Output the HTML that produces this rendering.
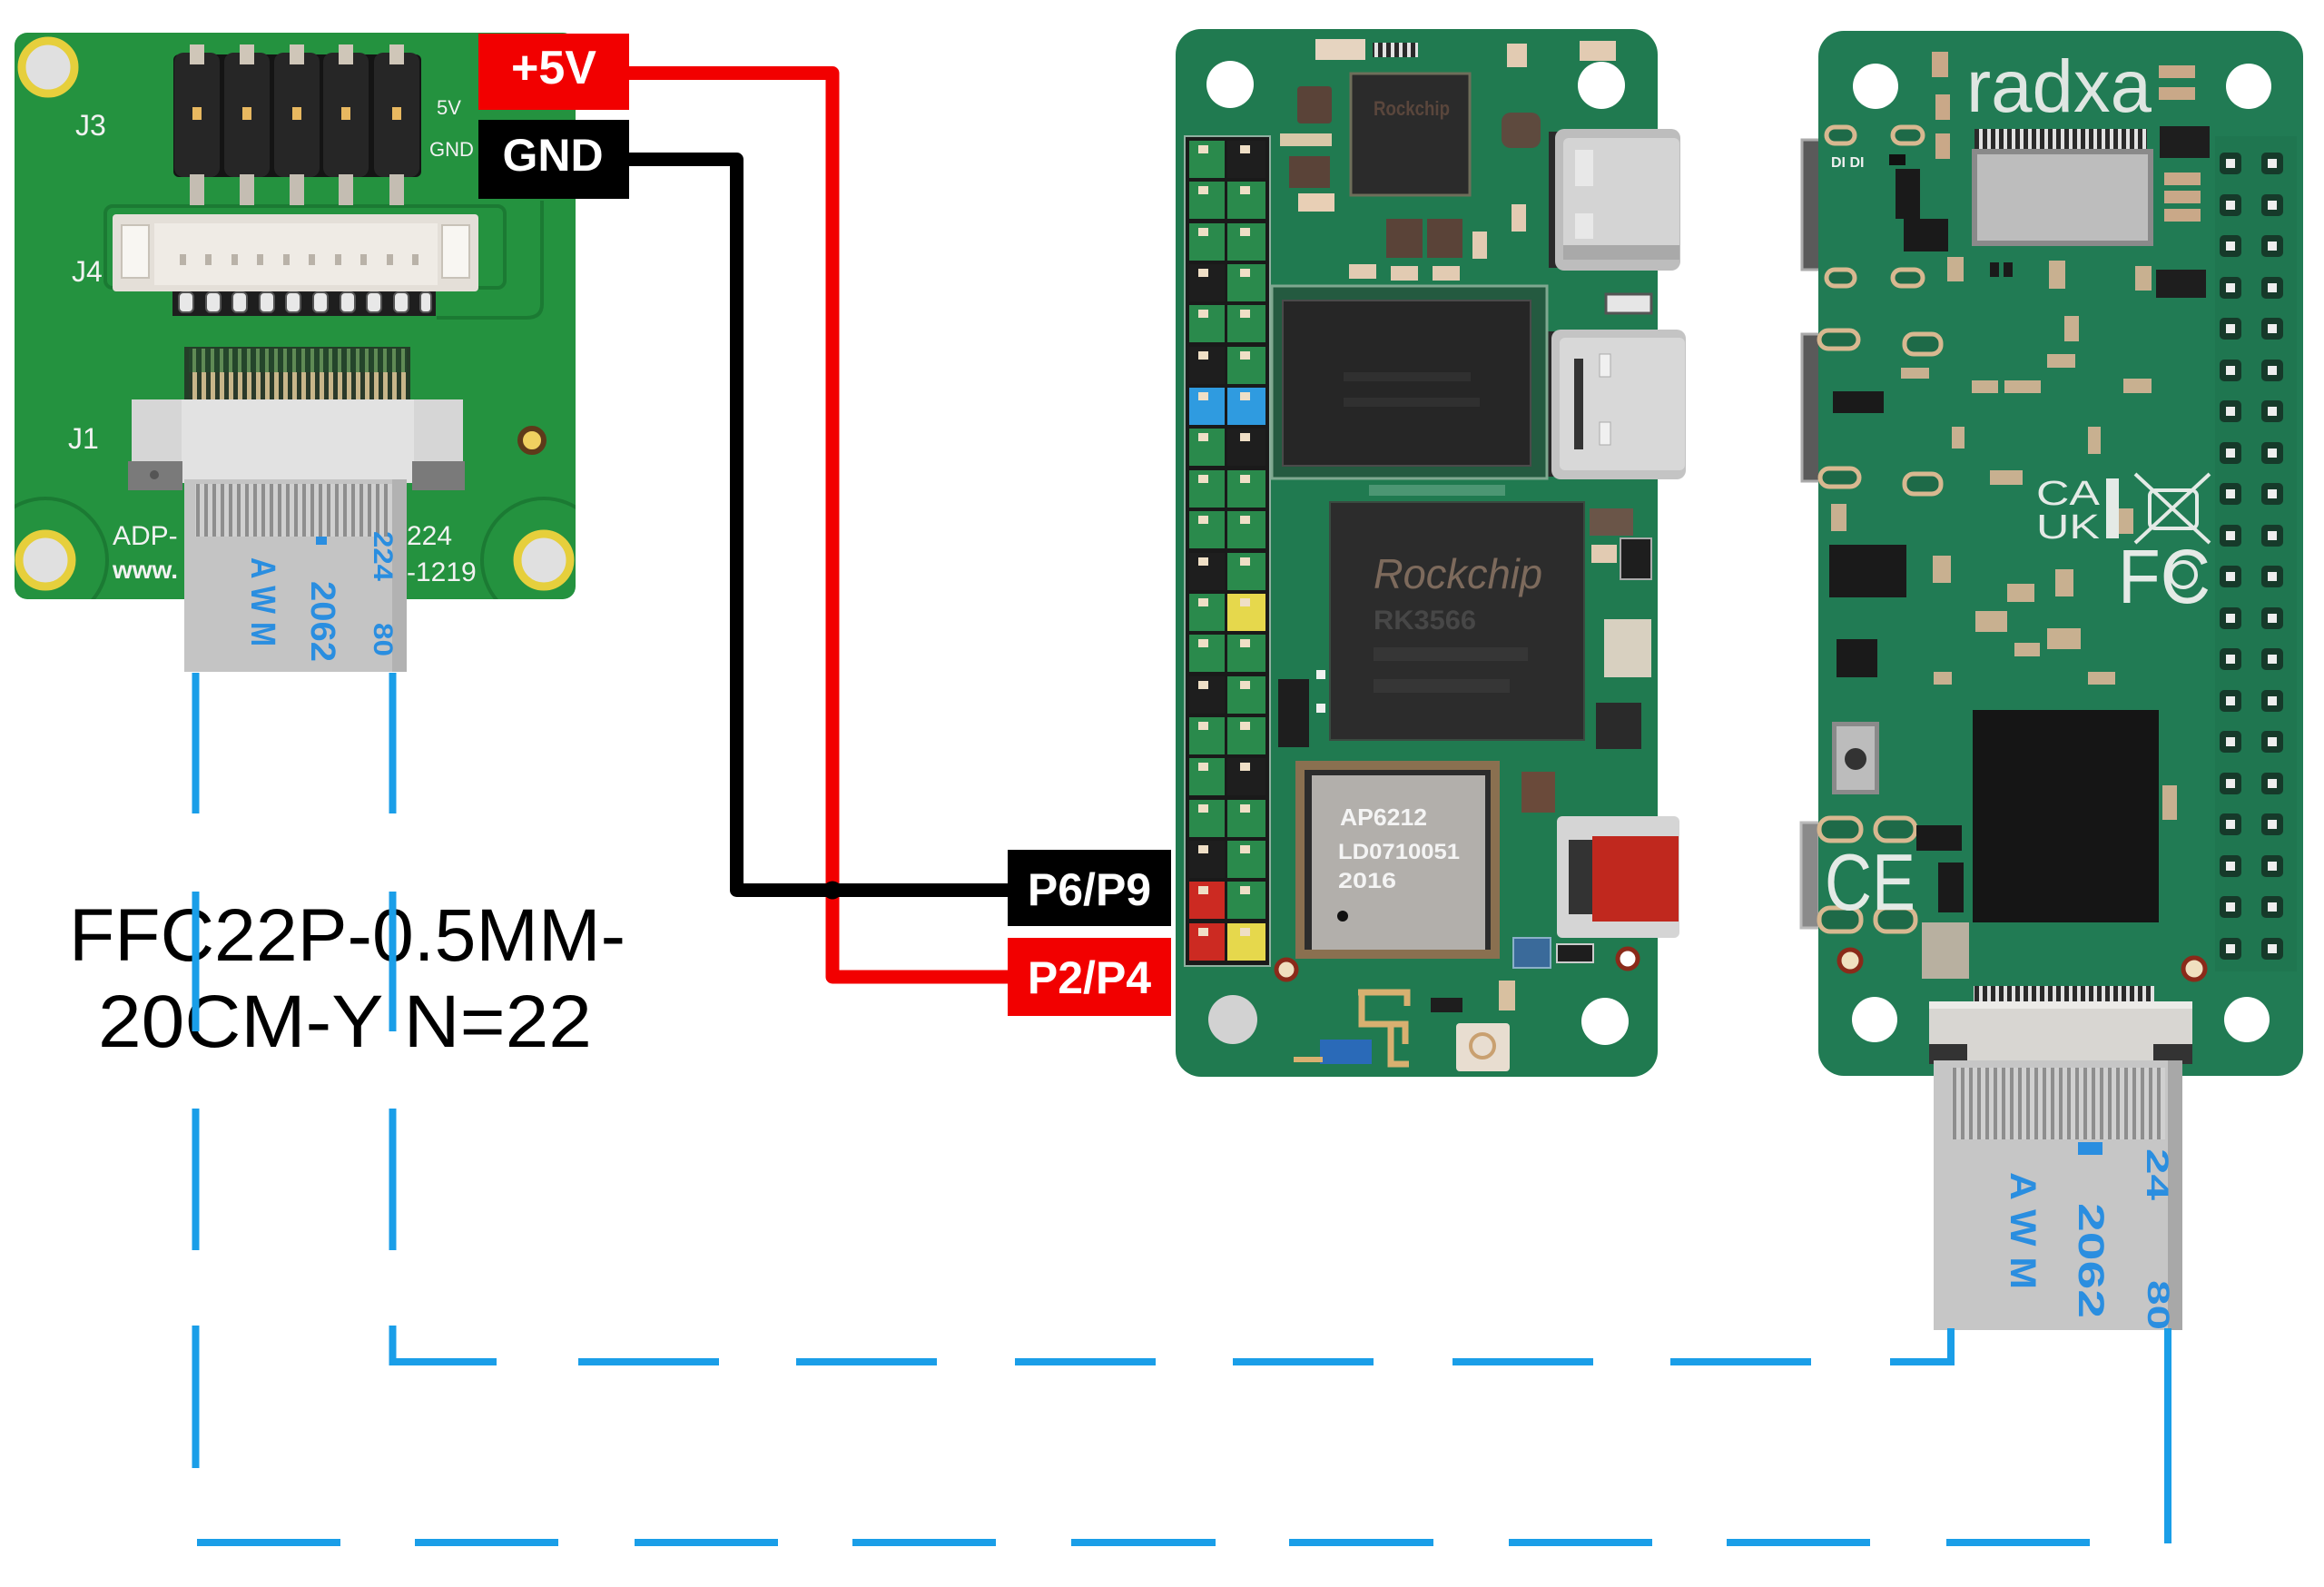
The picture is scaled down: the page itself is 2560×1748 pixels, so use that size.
<!DOCTYPE html>
<html><head><meta charset="utf-8"><style>
html,body{margin:0;padding:0;background:#fff;}
svg{display:block}
text{font-family:"Liberation Sans",sans-serif}
</style></head><body>
<svg xmlns="http://www.w3.org/2000/svg" width="2560" height="1748" viewBox="0 0 2560 1748">
<defs>
<pattern id="rib" width="9" height="10" patternUnits="userSpaceOnUse"><rect width="9" height="10" fill="#d0d0d0"/><rect width="4" height="10" fill="#8e8e8e"/></pattern>
<pattern id="gold" width="10" height="10" patternUnits="userSpaceOnUse"><rect width="10" height="10" fill="#2a3a2a"/><rect x="2" width="5" height="10" fill="#c8b68a"/></pattern>
<pattern id="gz" width="10" height="10" patternUnits="userSpaceOnUse"><rect width="10" height="10" fill="#24452b"/><rect x="2" width="4" height="10" fill="#5f8a55"/></pattern>
<pattern id="wp" width="9" height="10" patternUnits="userSpaceOnUse"><rect width="9" height="10" fill="#2a2a2a"/><rect x="2" width="4" height="10" fill="#e2e2e2"/></pattern>
<clipPath id="lb"><rect x="16" y="36" width="618" height="624" rx="14"/></clipPath>
</defs>
<rect width="2560" height="1748" fill="#fff"/>

<!-- ================= LEFT ADAPTER BOARD ================= -->
<rect x="16" y="36" width="618" height="624" rx="14" fill="#24923f"/>
<g clip-path="url(#lb)" fill="none" stroke="#1b7a33" stroke-width="4">
<circle cx="50" cy="617" r="68"/><circle cx="599" cy="617" r="68"/>
<path d="M597 221 V335 Q597 350 580 350 H481"/>
<rect x="116" y="227" width="440" height="90" rx="8"/>
</g>
<!-- holes -->
<g fill="#e0e0e0" stroke="#e6cf3c" stroke-width="9">
<circle cx="53" cy="74" r="29"/><circle cx="50" cy="617" r="29"/><circle cx="599" cy="617" r="29"/>
</g>
<!-- J3 header -->
<rect x="191" y="60" width="273" height="135" rx="6" fill="#141414"/>
<g fill="#262626">
<rect x="192" y="58" width="50" height="137" rx="10"/><rect x="247" y="58" width="50" height="137" rx="10"/><rect x="302" y="58" width="50" height="137" rx="10"/><rect x="356" y="58" width="50" height="137" rx="10"/><rect x="412" y="58" width="50" height="137" rx="10"/>
</g>
<g fill="#cfc6b8">
<rect x="209" y="49" width="16" height="22"/><rect x="264" y="49" width="16" height="22"/><rect x="319" y="49" width="16" height="22"/><rect x="373" y="49" width="16" height="22"/><rect x="429" y="49" width="16" height="22"/>
</g>
<g fill="#e8b860">
<rect x="212" y="118" width="10" height="14"/><rect x="267" y="118" width="10" height="14"/><rect x="322" y="118" width="10" height="14"/><rect x="376" y="118" width="10" height="14"/><rect x="432" y="118" width="10" height="14"/>
</g>
<g fill="#c4bdb2">
<rect x="209" y="192" width="16" height="34"/><rect x="264" y="192" width="16" height="34"/><rect x="319" y="192" width="16" height="34"/><rect x="373" y="192" width="16" height="34"/><rect x="429" y="192" width="16" height="34"/>
</g>
<!-- J4 -->
<rect x="190" y="316" width="290" height="32" fill="#1e1e1e"/>
<g fill="#e8e8e8" stroke="#555" stroke-width="2">
<rect x="197" y="322" width="16" height="22" rx="5"/><rect x="227" y="322" width="16" height="22" rx="5"/><rect x="256" y="322" width="16" height="22" rx="5"/><rect x="286" y="322" width="16" height="22" rx="5"/><rect x="315" y="322" width="16" height="22" rx="5"/><rect x="345" y="322" width="16" height="22" rx="5"/><rect x="375" y="322" width="16" height="22" rx="5"/><rect x="404" y="322" width="16" height="22" rx="5"/><rect x="434" y="322" width="16" height="22" rx="5"/><rect x="463" y="322" width="12" height="22" rx="4"/>
</g>
<rect x="124" y="236" width="403" height="85" rx="4" fill="#e4dfd8"/>
<rect x="170" y="246" width="312" height="68" fill="#efebe5"/>
<rect x="134" y="248" width="30" height="58" fill="#f8f6f2" stroke="#c8c2b8" stroke-width="2"/>
<rect x="487" y="248" width="30" height="58" fill="#f8f6f2" stroke="#c8c2b8" stroke-width="2"/>
<g fill="#b9b2a8">
<rect x="198" y="280" width="7" height="12"/><rect x="226" y="280" width="7" height="12"/><rect x="255" y="280" width="7" height="12"/><rect x="283" y="280" width="7" height="12"/><rect x="312" y="280" width="7" height="12"/><rect x="340" y="280" width="7" height="12"/><rect x="369" y="280" width="7" height="12"/><rect x="397" y="280" width="7" height="12"/><rect x="426" y="280" width="7" height="12"/><rect x="454" y="280" width="7" height="12"/>
</g>
<!-- J1 -->
<rect x="203" y="382" width="249" height="63" fill="#243d28"/>
<rect x="208" y="384" width="240" height="26" fill="url(#gz)"/>
<rect x="208" y="410" width="240" height="35" fill="url(#gold)"/>
<rect x="145" y="440" width="365" height="72" fill="#d6d6d6"/>
<rect x="200" y="440" width="256" height="92" fill="#e2e2e2"/>
<rect x="141" y="508" width="60" height="32" fill="#7a7a7a"/>
<rect x="454" y="508" width="58" height="32" fill="#7a7a7a"/>
<circle cx="170" cy="523" r="5" fill="#555"/>
<!-- pad -->
<circle cx="586" cy="485" r="13" fill="#f0d060" stroke="#5e3a1a" stroke-width="6"/>
<!-- silkscreen -->
<g fill="#f2f2f2" font-size="32">
<text x="83" y="149">J3</text>
<text x="79" y="310">J4</text>
<text x="75" y="494">J1</text>
<text x="124" y="600" font-size="30">ADP-</text>
<text x="124" y="637" font-size="28" font-weight="bold">www.</text>
<text x="448" y="600" font-size="30">224</text>
<text x="448" y="640" font-size="30">-1219</text>
<text x="481" y="126" font-size="22">5V</text>
<text x="473" y="172" font-size="22">GND</text>
</g>
<!-- left cable -->
<rect x="203" y="528" width="245" height="212" fill="#c4c4c4"/>
<rect x="215" y="533" width="218" height="58" fill="url(#rib)"/>
<rect x="432" y="528" width="16" height="212" fill="#b2b2b2"/>
<g fill="#2a8ee0" font-weight="bold">
<text transform="translate(277,614) rotate(90)" font-size="38" textLength="98" lengthAdjust="spacingAndGlyphs">A W M</text>
<text transform="translate(343,640) rotate(90)" font-size="38" textLength="89" lengthAdjust="spacingAndGlyphs">2062</text>
<text transform="translate(412,585) rotate(90)" font-size="30" textLength="55" lengthAdjust="spacingAndGlyphs">224</text>
<text transform="translate(412,686) rotate(90)" font-size="30" textLength="37" lengthAdjust="spacingAndGlyphs">80</text>
<rect x="348" y="591" width="12" height="9"/>
</g>

<!-- ================= MIDDLE BOARD ================= -->
<rect x="1295" y="32" width="531" height="1154" rx="28" fill="#207a50"/>
<!-- holes -->
<circle cx="1355" cy="93" r="26" fill="#fff"/>
<circle cx="1764" cy="94" r="26" fill="#fff"/>
<circle cx="1358" cy="1123" r="27" fill="#d2d2d2"/>
<circle cx="1768" cy="1125" r="26" fill="#fff"/>
<!-- GPIO header -->
<rect x="1305" y="150" width="94" height="914" fill="#1a1a1a" stroke="#8fb0a0" stroke-width="2"/>
<g>
<rect x="1310" y="155" width="39" height="41" fill="#2a8a4c"/><rect x="1352" y="155" width="42" height="41" fill="#1e1e1e"/>
<rect x="1310" y="200" width="39" height="41" fill="#2a8a4c"/><rect x="1352" y="200" width="42" height="41" fill="#2a8a4c"/>
<rect x="1310" y="246" width="39" height="41" fill="#2a8a4c"/><rect x="1352" y="246" width="42" height="41" fill="#2a8a4c"/>
<rect x="1310" y="291" width="39" height="41" fill="#1e1e1e"/><rect x="1352" y="291" width="42" height="41" fill="#2a8a4c"/>
<rect x="1310" y="336" width="39" height="41" fill="#2a8a4c"/><rect x="1352" y="336" width="42" height="41" fill="#2a8a4c"/>
<rect x="1310" y="382" width="39" height="41" fill="#1e1e1e"/><rect x="1352" y="382" width="42" height="41" fill="#2a8a4c"/>
<rect x="1310" y="427" width="39" height="41" fill="#2f9be0"/><rect x="1352" y="427" width="42" height="41" fill="#2f9be0"/>
<rect x="1310" y="472" width="39" height="41" fill="#2a8a4c"/><rect x="1352" y="472" width="42" height="41" fill="#1e1e1e"/>
<rect x="1310" y="518" width="39" height="41" fill="#2a8a4c"/><rect x="1352" y="518" width="42" height="41" fill="#2a8a4c"/>
<rect x="1310" y="563" width="39" height="41" fill="#2a8a4c"/><rect x="1352" y="563" width="42" height="41" fill="#2a8a4c"/>
<rect x="1310" y="609" width="39" height="41" fill="#1e1e1e"/><rect x="1352" y="609" width="42" height="41" fill="#2a8a4c"/>
<rect x="1310" y="654" width="39" height="41" fill="#2a8a4c"/><rect x="1352" y="654" width="42" height="41" fill="#e6d84c"/>
<rect x="1310" y="699" width="39" height="41" fill="#2a8a4c"/><rect x="1352" y="699" width="42" height="41" fill="#2a8a4c"/>
<rect x="1310" y="745" width="39" height="41" fill="#1e1e1e"/><rect x="1352" y="745" width="42" height="41" fill="#2a8a4c"/>
<rect x="1310" y="790" width="39" height="41" fill="#2a8a4c"/><rect x="1352" y="790" width="42" height="41" fill="#2a8a4c"/>
<rect x="1310" y="835" width="39" height="41" fill="#2a8a4c"/><rect x="1352" y="835" width="42" height="41" fill="#1e1e1e"/>
<rect x="1310" y="881" width="39" height="41" fill="#2a8a4c"/><rect x="1352" y="881" width="42" height="41" fill="#2a8a4c"/>
<rect x="1310" y="926" width="39" height="41" fill="#1e1e1e"/><rect x="1352" y="926" width="42" height="41" fill="#2a8a4c"/>
<rect x="1310" y="971" width="39" height="41" fill="#cc2a22"/><rect x="1352" y="971" width="42" height="41" fill="#2a8a4c"/>
<rect x="1310" y="1017" width="39" height="41" fill="#cc2a22"/><rect x="1352" y="1017" width="42" height="41" fill="#e6d84c"/>
</g>
<g fill="#efdfc6">
<rect x="1320" y="160" width="11" height="9"/><rect x="1366" y="160" width="11" height="9"/>
<rect x="1320" y="205" width="11" height="9"/><rect x="1366" y="205" width="11" height="9"/>
<rect x="1320" y="251" width="11" height="9"/><rect x="1366" y="251" width="11" height="9"/>
<rect x="1320" y="296" width="11" height="9"/><rect x="1366" y="296" width="11" height="9"/>
<rect x="1320" y="341" width="11" height="9"/><rect x="1366" y="341" width="11" height="9"/>
<rect x="1320" y="387" width="11" height="9"/><rect x="1366" y="387" width="11" height="9"/>
<rect x="1320" y="432" width="11" height="9"/><rect x="1366" y="432" width="11" height="9"/>
<rect x="1320" y="477" width="11" height="9"/><rect x="1366" y="477" width="11" height="9"/>
<rect x="1320" y="523" width="11" height="9"/><rect x="1366" y="523" width="11" height="9"/>
<rect x="1320" y="568" width="11" height="9"/><rect x="1366" y="568" width="11" height="9"/>
<rect x="1320" y="614" width="11" height="9"/><rect x="1366" y="614" width="11" height="9"/>
<rect x="1320" y="659" width="11" height="9"/><rect x="1366" y="659" width="11" height="9"/>
<rect x="1320" y="704" width="11" height="9"/><rect x="1366" y="704" width="11" height="9"/>
<rect x="1320" y="750" width="11" height="9"/><rect x="1366" y="750" width="11" height="9"/>
<rect x="1320" y="795" width="11" height="9"/><rect x="1366" y="795" width="11" height="9"/>
<rect x="1320" y="840" width="11" height="9"/><rect x="1366" y="840" width="11" height="9"/>
<rect x="1320" y="886" width="11" height="9"/><rect x="1366" y="886" width="11" height="9"/>
<rect x="1320" y="931" width="11" height="9"/><rect x="1366" y="931" width="11" height="9"/>
<rect x="1320" y="976" width="11" height="9"/><rect x="1366" y="976" width="11" height="9"/>
<rect x="1320" y="1022" width="11" height="9"/><rect x="1366" y="1022" width="11" height="9"/>
</g>
<!-- top area components -->
<rect x="1449" y="43" width="55" height="23" fill="#e6d4c0"/>
<rect x="1512" y="47" width="50" height="16" fill="url(#wp)"/>
<rect x="1660" y="48" width="22" height="26" fill="#e2cbb2"/>
<rect x="1740" y="45" width="40" height="22" fill="#e2cbb2"/>
<rect x="1429" y="95" width="38" height="41" rx="4" fill="#5a4338"/>
<rect x="1420" y="172" width="45" height="35" fill="#5a4338"/>
<rect x="1410" y="147" width="57" height="14" fill="#d8c8a8"/>
<rect x="1430" y="213" width="40" height="20" fill="#e8cfb5"/>
<rect x="1488" y="81" width="131" height="134" fill="#2b2b2b" stroke="#6e6e5a" stroke-width="3"/>
<text x="1513" y="127" font-size="22" font-weight="bold" fill="#5a463c" textLength="84" lengthAdjust="spacingAndGlyphs">Rockchip</text>
<rect x="1654" y="124" width="43" height="39" rx="10" fill="#5e4a3e"/>
<rect x="1527" y="241" width="40" height="43" fill="#5a4338"/>
<rect x="1572" y="241" width="39" height="43" fill="#5a4338"/>
<rect x="1486" y="291" width="30" height="16" fill="#e2cbb2"/>
<rect x="1532" y="293" width="30" height="16" fill="#e2cbb2"/>
<rect x="1578" y="293" width="30" height="16" fill="#e2cbb2"/>
<rect x="1622" y="255" width="16" height="30" fill="#e2cbb2"/>
<rect x="1665" y="225" width="16" height="30" fill="#e2cbb2"/>
<!-- USB-C 1 -->
<rect x="1706" y="145" width="16" height="150" fill="#2a2a2a"/>
<rect x="1713" y="142" width="138" height="156" rx="10" fill="#bdbdbd"/>
<rect x="1722" y="152" width="128" height="134" rx="6" fill="#d4d4d4"/>
<rect x="1722" y="270" width="128" height="16" fill="#a9a9a9"/>
<rect x="1735" y="165" width="20" height="40" fill="#e8e8e8"/>
<rect x="1735" y="235" width="20" height="28" fill="#e8e8e8"/>
<rect x="1769" y="324" width="50" height="21" fill="#e6e6e6" stroke="#555" stroke-width="3"/>
<!-- USB-C 2 -->
<rect x="1702" y="365" width="16" height="160" fill="#2a2a2a"/>
<rect x="1709" y="363" width="148" height="165" rx="10" fill="#c4c4c4"/>
<rect x="1718" y="372" width="138" height="146" rx="6" fill="#d8d8d8"/>
<rect x="1734" y="395" width="10" height="100" fill="#333"/>
<rect x="1762" y="390" width="12" height="25" fill="#f0f0f0" stroke="#aaa"/>
<rect x="1762" y="465" width="12" height="25" fill="#f0f0f0" stroke="#aaa"/>
<!-- RAM -->
<rect x="1401" y="315" width="303" height="212" fill="#245a40" stroke="#7fa890" stroke-width="3"/>
<rect x="1413" y="331" width="273" height="182" fill="#262626" stroke="#4a4a4a" stroke-width="2"/>
<rect x="1480" y="410" width="140" height="10" fill="#303030"/>
<rect x="1480" y="438" width="150" height="10" fill="#303030"/>
<!-- SoC -->
<rect x="1465" y="553" width="280" height="262" fill="#2c2c2c" stroke="#3a4a40" stroke-width="2"/>
<text x="1513" y="648" font-size="46" font-style="italic" fill="#7d6a5c" textLength="186" lengthAdjust="spacingAndGlyphs">Rockchip</text>
<text x="1513" y="693" font-size="30" font-weight="bold" fill="#474747" textLength="113" lengthAdjust="spacingAndGlyphs">RK3566</text>
<rect x="1513" y="713" width="170" height="15" fill="#363636"/>
<rect x="1513" y="748" width="150" height="15" fill="#363636"/>
<rect x="1508" y="534" width="150" height="12" fill="#6aa88a" opacity="0.6"/>
<!-- around SoC -->
<rect x="1751" y="560" width="48" height="30" fill="#6a5548"/>
<rect x="1753" y="600" width="28" height="20" fill="#e2cbb2"/>
<rect x="1785" y="593" width="34" height="45" fill="#1e1e1e" stroke="#aaa" stroke-width="2"/>
<rect x="1767" y="682" width="52" height="64" fill="#d8d0c0"/>
<rect x="1758" y="774" width="50" height="51" fill="#2a2a2a"/>
<rect x="1408" y="748" width="34" height="75" fill="#1e1e1e"/>
<rect x="1450" y="738" width="10" height="10" fill="#f0f0f0"/>
<rect x="1450" y="775" width="10" height="10" fill="#f0f0f0"/>
<!-- wifi module -->
<rect x="1427" y="838" width="225" height="218" fill="#8a7050"/>
<rect x="1437" y="848" width="205" height="198" fill="#2c2c2c"/>
<rect x="1445" y="854" width="191" height="192" fill="#b2afab"/>
<g fill="#f4f4f4" font-weight="bold">
<text x="1476" y="909" font-size="26" textLength="96" lengthAdjust="spacingAndGlyphs">AP6212</text>
<text x="1474" y="946" font-size="24" textLength="134" lengthAdjust="spacingAndGlyphs">LD0710051</text>
<text x="1474" y="978" font-size="24" textLength="64" lengthAdjust="spacingAndGlyphs">2016</text>
</g>
<circle cx="1479" cy="1009" r="6" fill="#111"/>
<!-- red connector -->
<rect x="1676" y="850" width="37" height="45" fill="#6a4a3a"/>
<rect x="1715" y="899" width="135" height="134" rx="6" fill="#d5d5d5"/>
<rect x="1728" y="925" width="28" height="82" fill="#333"/>
<rect x="1754" y="921" width="95" height="94" fill="#c0281e"/>
<rect x="1667" y="1033" width="41" height="33" fill="#3a6a9a" stroke="#8ab0c8" stroke-width="2"/>
<rect x="1715" y="1040" width="40" height="20" fill="#1e1e1e" stroke="#ccc" stroke-width="2"/>
<circle cx="1417" cy="1068" r="11" fill="#f0e0c0" stroke="#8a2a1a" stroke-width="5"/>
<circle cx="1793" cy="1056" r="11" fill="#fff" stroke="#8a2a1a" stroke-width="5"/>
<!-- bottom -->
<path d="M1496 1093 H1550 V1108 M1500 1093 V1128 H1548 V1150 M1532 1128 V1172 H1552" fill="none" stroke="#d8b070" stroke-width="7"/>
<rect x="1454" y="1145" width="57" height="27" fill="#2a6ab8"/>
<rect x="1425" y="1164" width="32" height="6" fill="#d8b070"/>
<rect x="1604" y="1127" width="59" height="53" rx="4" fill="#e8ddd0"/>
<circle cx="1633" cy="1152" r="13" fill="none" stroke="#c9a070" stroke-width="4"/>
<rect x="1576" y="1099" width="35" height="16" fill="#1e1e1e"/>
<rect x="1651" y="1080" width="18" height="33" fill="#d8c0a0"/>

<!-- ================= RIGHT BOARD ================= -->
<rect x="1985" y="154" width="20" height="143" fill="#5a5a5a" stroke="#aaa" stroke-width="3"/>
<rect x="1985" y="368" width="20" height="162" fill="#5a5a5a" stroke="#aaa" stroke-width="3"/>
<rect x="1984" y="906" width="20" height="116" fill="#8a8a8a" stroke="#bbb" stroke-width="3"/>
<rect x="2003" y="34" width="534" height="1151" rx="28" fill="#217b54"/>
<rect x="2440" y="150" width="90" height="920" fill="#1f7650"/>
<circle cx="2066" cy="95" r="25" fill="#fff"/>
<circle cx="2477" cy="95" r="25" fill="#fff"/>
<circle cx="2065" cy="1123" r="25" fill="#fff"/>
<circle cx="2475" cy="1123" r="25" fill="#fff"/>
<text x="2166" y="123" font-size="82" fill="#dfe6e2" textLength="204" lengthAdjust="spacingAndGlyphs">radxa</text>
<g fill="#c9a888">
<rect x="2128" y="57" width="18" height="28"/><rect x="2132" y="104" width="16" height="28"/><rect x="2132" y="147" width="16" height="28"/>
<rect x="2378" y="72" width="40" height="14"/><rect x="2378" y="96" width="40" height="14"/>
<rect x="2384" y="190" width="40" height="14"/><rect x="2384" y="210" width="40" height="14"/><rect x="2384" y="230" width="40" height="14"/>
</g>
<rect x="2175" y="142" width="190" height="22" fill="url(#wp)"/>
<rect x="2172" y="164" width="200" height="107" fill="#8a8a8a"/>
<rect x="2178" y="170" width="188" height="95" fill="#bdbdbd"/>
<rect x="2379" y="139" width="55" height="35" fill="#1e1e1e"/>
<rect x="2375" y="297" width="55" height="31" fill="#1e1e1e"/>
<rect x="2088" y="186" width="27" height="55" fill="#1a1a1a"/>
<rect x="2097" y="241" width="49" height="36" fill="#1a1a1a"/>
<rect x="2081" y="170" width="18" height="12" fill="#111"/>
<text x="2017" y="184" font-size="16" font-weight="bold" fill="#f0f0f0">DI  DI</text>
<!-- oval pads -->
<g fill="#1e6a48" stroke="#d8b890" stroke-width="5">
<rect x="2012" y="140" width="31" height="18" rx="9"/><rect x="2085" y="140" width="33" height="18" rx="9"/>
<rect x="2012" y="297" width="31" height="18" rx="9"/><rect x="2085" y="297" width="33" height="18" rx="9"/>
<rect x="2004" y="364" width="43" height="20" rx="10"/><rect x="2098" y="368" width="40" height="22" rx="10"/>
<rect x="2005" y="516" width="43" height="20" rx="10"/><rect x="2098" y="522" width="40" height="22" rx="10"/>
<rect x="2004" y="901" width="46" height="25" rx="12"/><rect x="2066" y="901" width="44" height="25" rx="12"/>
<rect x="2004" y="1000" width="46" height="26" rx="12"/><rect x="2066" y="1000" width="44" height="26" rx="12"/>
</g>
<!-- small components -->
<g fill="#c8b090">
<rect x="2145" y="283" width="18" height="27"/><rect x="2257" y="287" width="18" height="31"/><rect x="2352" y="293" width="18" height="27"/>
<rect x="2274" y="348" width="16" height="28"/><rect x="2094" y="405" width="31" height="12"/><rect x="2172" y="419" width="29" height="14"/>
<rect x="2208" y="419" width="40" height="14"/><rect x="2255" y="390" width="31" height="15"/><rect x="2339" y="417" width="31" height="16"/>
<rect x="2192" y="518" width="36" height="16"/><rect x="2017" y="555" width="17" height="30"/><rect x="2176" y="673" width="35" height="23"/>
<rect x="2255" y="692" width="37" height="23"/><rect x="2211" y="643" width="30" height="20"/><rect x="2264" y="627" width="20" height="30"/>
<rect x="2219" y="708" width="28" height="15"/><rect x="2129" y="612" width="20" height="30"/><rect x="2382" y="865" width="16" height="38"/>
<rect x="2300" y="470" width="14" height="30"/><rect x="2150" y="470" width="14" height="24"/><rect x="2330" y="560" width="20" height="28"/>
<rect x="2040" y="640" width="28" height="12"/><rect x="2300" y="740" width="30" height="14"/><rect x="2130" y="740" width="20" height="14"/>
</g>
<g fill="#1a1a1a">
<rect x="2192" y="289" width="10" height="16"/><rect x="2207" y="289" width="10" height="16"/>
<rect x="2019" y="431" width="56" height="24"/>
<rect x="2015" y="600" width="85" height="58"/>
<rect x="2023" y="704" width="45" height="42"/>
<rect x="2111" y="909" width="50" height="28"/>
<rect x="2135" y="950" width="28" height="55"/>
</g>
<!-- logos -->
<g fill="#e4eae6">
<text x="2243" y="556" font-size="38" textLength="70" lengthAdjust="spacingAndGlyphs">CA</text>
<text x="2243" y="593" font-size="38" textLength="70" lengthAdjust="spacingAndGlyphs">UK</text>
<rect x="2320" y="527" width="14" height="66"/>
<text x="2333" y="664" font-size="84" textLength="102" lengthAdjust="spacingAndGlyphs">FC</text>
<text x="2010" y="1002" font-size="88" textLength="100" lengthAdjust="spacingAndGlyphs">CE</text>
</g>
<g stroke="#e4eae6" stroke-width="4" fill="none">
<line x1="2352" y1="522" x2="2434" y2="598"/><line x1="2434" y1="522" x2="2352" y2="598"/>
<rect x="2368" y="540" width="52" height="42" rx="6"/>
<circle cx="2405" cy="633" r="14"/>
</g>
<!-- button -->
<rect x="2018" y="795" width="52" height="80" fill="#8a8a8a"/>
<rect x="2023" y="800" width="42" height="70" fill="#bcbcbc"/>
<circle cx="2044" cy="836" r="12" fill="#333"/>
<!-- big chip -->
<rect x="2173" y="782" width="205" height="234" fill="#151515"/>
<rect x="2117" y="1016" width="52" height="62" fill="#b8b0a0"/>
<circle cx="2038" cy="1058" r="12" fill="#f0e0c0" stroke="#8a2a1a" stroke-width="5"/>
<circle cx="2417" cy="1067" r="12" fill="#f0e0c0" stroke="#8a2a1a" stroke-width="5"/>
<!-- right pads -->
<g fill="#163a2a">
<rect x="2445" y="168" width="24" height="24" rx="5"/><rect x="2491" y="168" width="24" height="24" rx="5"/>
<rect x="2445" y="214" width="24" height="24" rx="5"/><rect x="2491" y="214" width="24" height="24" rx="5"/>
<rect x="2445" y="259" width="24" height="24" rx="5"/><rect x="2491" y="259" width="24" height="24" rx="5"/>
<rect x="2445" y="305" width="24" height="24" rx="5"/><rect x="2491" y="305" width="24" height="24" rx="5"/>
<rect x="2445" y="350" width="24" height="24" rx="5"/><rect x="2491" y="350" width="24" height="24" rx="5"/>
<rect x="2445" y="396" width="24" height="24" rx="5"/><rect x="2491" y="396" width="24" height="24" rx="5"/>
<rect x="2445" y="441" width="24" height="24" rx="5"/><rect x="2491" y="441" width="24" height="24" rx="5"/>
<rect x="2445" y="487" width="24" height="24" rx="5"/><rect x="2491" y="487" width="24" height="24" rx="5"/>
<rect x="2445" y="532" width="24" height="24" rx="5"/><rect x="2491" y="532" width="24" height="24" rx="5"/>
<rect x="2445" y="578" width="24" height="24" rx="5"/><rect x="2491" y="578" width="24" height="24" rx="5"/>
<rect x="2445" y="623" width="24" height="24" rx="5"/><rect x="2491" y="623" width="24" height="24" rx="5"/>
<rect x="2445" y="669" width="24" height="24" rx="5"/><rect x="2491" y="669" width="24" height="24" rx="5"/>
<rect x="2445" y="714" width="24" height="24" rx="5"/><rect x="2491" y="714" width="24" height="24" rx="5"/>
<rect x="2445" y="760" width="24" height="24" rx="5"/><rect x="2491" y="760" width="24" height="24" rx="5"/>
<rect x="2445" y="805" width="24" height="24" rx="5"/><rect x="2491" y="805" width="24" height="24" rx="5"/>
<rect x="2445" y="851" width="24" height="24" rx="5"/><rect x="2491" y="851" width="24" height="24" rx="5"/>
<rect x="2445" y="896" width="24" height="24" rx="5"/><rect x="2491" y="896" width="24" height="24" rx="5"/>
<rect x="2445" y="942" width="24" height="24" rx="5"/><rect x="2491" y="942" width="24" height="24" rx="5"/>
<rect x="2445" y="987" width="24" height="24" rx="5"/><rect x="2491" y="987" width="24" height="24" rx="5"/>
<rect x="2445" y="1033" width="24" height="24" rx="5"/><rect x="2491" y="1033" width="24" height="24" rx="5"/>
</g>
<g fill="#eeeeee">
<rect x="2452" y="175" width="10" height="10"/><rect x="2498" y="175" width="10" height="10"/>
<rect x="2452" y="221" width="10" height="10"/><rect x="2498" y="221" width="10" height="10"/>
<rect x="2452" y="266" width="10" height="10"/><rect x="2498" y="266" width="10" height="10"/>
<rect x="2452" y="312" width="10" height="10"/><rect x="2498" y="312" width="10" height="10"/>
<rect x="2452" y="357" width="10" height="10"/><rect x="2498" y="357" width="10" height="10"/>
<rect x="2452" y="403" width="10" height="10"/><rect x="2498" y="403" width="10" height="10"/>
<rect x="2452" y="448" width="10" height="10"/><rect x="2498" y="448" width="10" height="10"/>
<rect x="2452" y="494" width="10" height="10"/><rect x="2498" y="494" width="10" height="10"/>
<rect x="2452" y="539" width="10" height="10"/><rect x="2498" y="539" width="10" height="10"/>
<rect x="2452" y="585" width="10" height="10"/><rect x="2498" y="585" width="10" height="10"/>
<rect x="2452" y="630" width="10" height="10"/><rect x="2498" y="630" width="10" height="10"/>
<rect x="2452" y="676" width="10" height="10"/><rect x="2498" y="676" width="10" height="10"/>
<rect x="2452" y="721" width="10" height="10"/><rect x="2498" y="721" width="10" height="10"/>
<rect x="2452" y="767" width="10" height="10"/><rect x="2498" y="767" width="10" height="10"/>
<rect x="2452" y="812" width="10" height="10"/><rect x="2498" y="812" width="10" height="10"/>
<rect x="2452" y="858" width="10" height="10"/><rect x="2498" y="858" width="10" height="10"/>
<rect x="2452" y="903" width="10" height="10"/><rect x="2498" y="903" width="10" height="10"/>
<rect x="2452" y="949" width="10" height="10"/><rect x="2498" y="949" width="10" height="10"/>
<rect x="2452" y="994" width="10" height="10"/><rect x="2498" y="994" width="10" height="10"/>
<rect x="2452" y="1040" width="10" height="10"/><rect x="2498" y="1040" width="10" height="10"/>
</g>
<!-- right FFC connector -->
<rect x="2174" y="1086" width="199" height="19" fill="url(#wp)"/>
<rect x="2125" y="1103" width="290" height="68" fill="#d8d6d2"/>
<rect x="2125" y="1103" width="290" height="8" fill="#ecebe8"/>
<rect x="2125" y="1150" width="42" height="22" fill="#333"/>
<rect x="2372" y="1150" width="43" height="22" fill="#333"/>
<!-- right cable -->
<rect x="2130" y="1168" width="274" height="297" fill="#c6c6c6"/>
<rect x="2150" y="1176" width="235" height="79" fill="url(#rib)"/>
<rect x="2388" y="1168" width="16" height="297" fill="#a8a8a8"/>
<g fill="#2a8ee0" font-weight="bold">
<text transform="translate(2215,1291) rotate(90)" font-size="40" textLength="129" lengthAdjust="spacingAndGlyphs">A W M</text>
<text transform="translate(2290,1325) rotate(90)" font-size="40" textLength="127" lengthAdjust="spacingAndGlyphs">2062</text>
<text transform="translate(2365,1265) rotate(90)" font-size="34" textLength="57" lengthAdjust="spacingAndGlyphs">24</text>
<text transform="translate(2366,1410) rotate(90)" font-size="34" textLength="55" lengthAdjust="spacingAndGlyphs">80</text>
<rect x="2289" y="1258" width="27" height="14"/>
</g>

<!-- ================= FFC LABEL ================= -->
<g fill="#000">
<text x="76" y="1058" font-size="82" textLength="613" lengthAdjust="spacingAndGlyphs">FFC22P-0.5MM-</text>
<text x="108" y="1153" font-size="82" textLength="544" lengthAdjust="spacingAndGlyphs">20CM-Y N=22</text>
</g>

<!-- ================= BLUE DASHED ================= -->
<g stroke="#1a9ee8" stroke-width="8" fill="none">
<path d="M432.5 741 V896 M432.5 982 V1136 M432.5 1221 V1377 M432.5 1460 V1500 H547 M637 1500 H792 M877 1500 H1032 M1118 1500 H1273 M1358 1500 H1513 M1600 1500 H1755 M1840 1500 H1995 M2082 1500 H2149 V1463"/>
<path d="M215.5 741 V896 M215.5 982 V1136 M215.5 1221 V1377 M215.5 1460 V1617 M217 1699 H375 M457 1699 H615 M699 1699 H857 M939 1699 H1097 M1180 1699 H1339 M1420 1699 H1579 M1662 1699 H1820 M1902 1699 H2060 M2144 1699 H2302 M2388 1463 V1700"/>
</g>

<!-- ================= WIRES ================= -->
<path d="M690 80.5 H917 V1076 H1112" fill="none" stroke="#f20000" stroke-width="15" stroke-linejoin="round"/>
<path d="M690 175.5 H811.5 V980.5 H1112" fill="none" stroke="#000" stroke-width="15" stroke-linejoin="round"/>
<circle cx="917" cy="980.5" r="10" fill="#000"/>

<!-- labels -->
<rect x="527" y="37" width="166" height="84" fill="#f20000"/>
<rect x="527" y="132" width="166" height="87" fill="#000"/>
<rect x="1110" y="936" width="180" height="84" fill="#000"/>
<rect x="1110" y="1033" width="180" height="86" fill="#f20000"/>
<g fill="#fff" font-weight="bold" text-anchor="middle">
<text x="610" y="92" font-size="52">+5V</text>
<text x="609" y="188" font-size="50">GND</text>
<text x="1200" y="997" font-size="50">P6/P9</text>
<text x="1200" y="1094" font-size="50">P2/P4</text>
</g>
</svg>
</body></html>
